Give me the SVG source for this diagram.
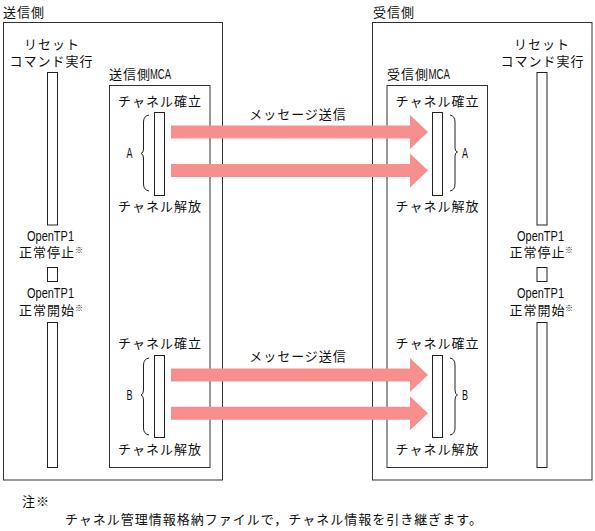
<svg xmlns="http://www.w3.org/2000/svg" width="595" height="531" viewBox="0 0 595 531">
<style>
.t{font-family:"Noto Sans CJK JP","Noto Sans CJK SC",sans-serif;font-size:13px;letter-spacing:1px;fill:#111}
.c{text-anchor:middle}
.l{font-family:"Liberation Sans",Arial,sans-serif;font-size:14px;fill:#111}
.s{font-family:"Noto Sans CJK JP",sans-serif;font-size:8px;fill:#111}
.box{fill:#fff;stroke:#333;stroke-width:1}
.bar{fill:#fff;stroke:#222;stroke-width:1}
.br{fill:none;stroke:#222;stroke-width:1}
.arr{fill:#F88F8F;stroke:none}
</style>
<rect width="595" height="531" fill="#fff"/>

<g id="sender">
<text class="t" x="3" y="17">送信側</text>
<rect class="box" x="3.5" y="22.5" width="219" height="457.5"/>
</g>
<g id="receiver">
<text class="t" x="373" y="17">受信側</text>
<rect class="box" x="372.5" y="22.5" width="219.5" height="457.5"/>
</g>

<g id="sender-reset">
<text class="t c" x="52" y="49">リセット</text>
<text class="t c" x="51.5" y="66">コマンド実行</text>
<rect class="bar" x="47.5" y="72.5" width="10" height="152.5"/>
<text class="l" x="27" y="241" textLength="47" lengthAdjust="spacingAndGlyphs">OpenTP1</text>
<text class="t" x="19" y="256.5">正常停止</text><text class="s" x="75" y="253">※</text>
<rect class="bar" x="47.5" y="267.5" width="10" height="14"/>
<text class="l" x="27" y="298" textLength="47" lengthAdjust="spacingAndGlyphs">OpenTP1</text>
<text class="t" x="19" y="314.5">正常開始</text><text class="s" x="75" y="311">※</text>
<rect class="bar" x="47.5" y="322.5" width="10" height="145"/>
</g>

<g id="receiver-reset">
<text class="t c" x="542" y="49">リセット</text>
<text class="t c" x="542.5" y="66">コマンド実行</text>
<rect class="bar" x="537" y="72.5" width="10" height="152.5"/>
<text class="l" x="517" y="241" textLength="47" lengthAdjust="spacingAndGlyphs">OpenTP1</text>
<text class="t" x="509.5" y="256.5">正常停止</text><text class="s" x="565" y="253">※</text>
<rect class="bar" x="537" y="267.5" width="10" height="14"/>
<text class="l" x="517" y="298" textLength="47" lengthAdjust="spacingAndGlyphs">OpenTP1</text>
<text class="t" x="509.5" y="314.5">正常開始</text><text class="s" x="565" y="311">※</text>
<rect class="bar" x="537" y="322.5" width="10" height="145"/>
</g>

<g id="sender-mca">
<text class="t" x="109" y="79">送信側</text>
<text class="l" x="150" y="79" textLength="21" lengthAdjust="spacingAndGlyphs">MCA</text>
<rect class="box" x="109.5" y="85.5" width="100.5" height="382"/>
<text class="t c" x="160" y="106">チャネル確立</text>
<rect class="bar" x="154.5" y="112.5" width="10" height="83"/>
<path class="br" d="M149,115 Q143.5,116 143.5,122 V149 Q143.5,153 141,153.5 Q143.5,154 143.5,158 V184 Q143.5,190 149,191"/>
<text class="l" x="126.5" y="157.5" textLength="6" lengthAdjust="spacingAndGlyphs">A</text>
<text class="t c" x="160" y="211">チャネル解放</text>
<text class="t c" x="160" y="348">チャネル確立</text>
<rect class="bar" x="154.5" y="355.5" width="10" height="82"/>
<path class="br" d="M149,358 Q143.5,359 143.5,365 V390 Q143.5,394.5 141,395 Q143.5,395.5 143.5,400 V428 Q143.5,434 149,435"/>
<text class="l" x="126.5" y="400" textLength="6" lengthAdjust="spacingAndGlyphs">B</text>
<text class="t c" x="160" y="454">チャネル解放</text>
</g>

<g id="receiver-mca">
<text class="t" x="387" y="79">受信側</text>
<text class="l" x="428.5" y="79" textLength="21.5" lengthAdjust="spacingAndGlyphs">MCA</text>
<rect class="box" x="387" y="85.5" width="100.5" height="382"/>
<text class="t c" x="437.5" y="106">チャネル確立</text>
<rect class="bar" x="432.5" y="112.5" width="10" height="83"/>
<path class="br" d="M450,115 Q455,116 455,122 V148 Q455,151.5 457.5,152 Q455,152.5 455,156 V184 Q455,190 450,191"/>
<text class="l" x="462" y="157.5" textLength="6" lengthAdjust="spacingAndGlyphs">A</text>
<text class="t c" x="437.5" y="211">チャネル解放</text>
<text class="t c" x="437.5" y="348">チャネル確立</text>
<rect class="bar" x="432.5" y="355.5" width="10" height="82"/>
<path class="br" d="M450,358 Q455,359 455,365 V390 Q455,394.5 457.5,395 Q455,395.5 455,400 V428 Q455,434 450,435"/>
<text class="l" x="462" y="400" textLength="6" lengthAdjust="spacingAndGlyphs">B</text>
<text class="t c" x="437.5" y="454">チャネル解放</text>
</g>

<g id="connectors">
<text class="t c" x="298" y="119">メッセージ送信</text>
<path class="arr" d="M171,125.5 H410 V115 L428,132 L410,149 V138.5 H171 Z"/>
<path class="arr" d="M171,164 H410 V153.5 L428,170.5 L410,187.5 V177 H171 Z"/>
<text class="t c" x="298" y="361">メッセージ送信</text>
<path class="arr" d="M171,368.5 H410 V358 L428,375 L410,392 V381.5 H171 Z"/>
<path class="arr" d="M171,406.8 H410 V396.3 L428,413.3 L410,430.3 V419.8 H171 Z"/>
</g>

<g id="note">
<text class="t" x="22" y="506">注※</text>
<text class="t" x="65" y="524">チャネル管理情報格納ファイルで，チャネル情報を引き継ぎます。</text>
</g>
</svg>
